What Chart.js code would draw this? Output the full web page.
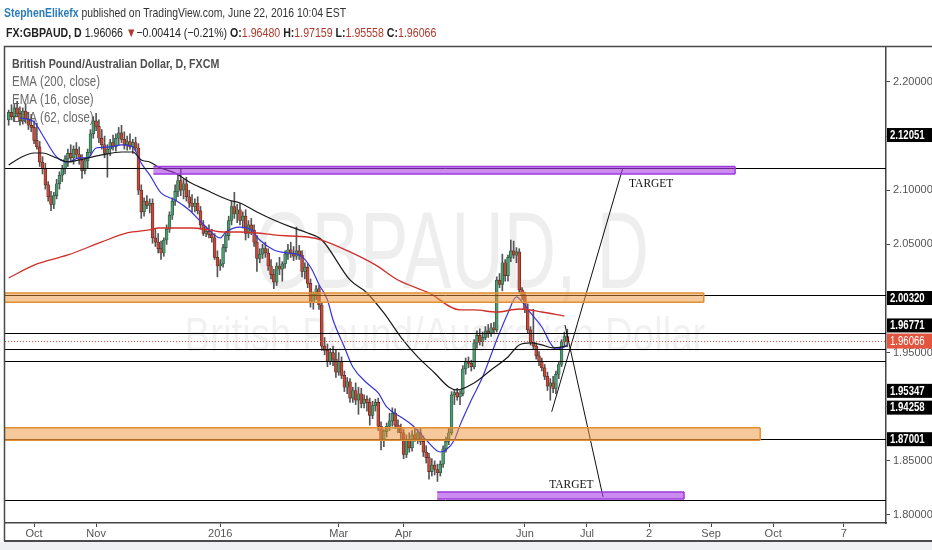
<!DOCTYPE html>
<html>
<head>
<meta charset="utf-8">
<script src="https://cdn.jsdelivr.net/npm/chart.js"></script>
<style>
  html,body{margin:0;padding:0;background:#fff;}
  #wrap{position:relative;width:932px;height:550px;overflow:hidden;}
  canvas{position:absolute;left:0;top:0;}
  .hd{position:absolute;white-space:nowrap;font-family:'Liberation Sans',Arial,sans-serif;font-size:13px;color:#333;transform:scaleX(0.8);transform-origin:0 0;}
  .hd b{font-weight:bold;}
  .red{color:#b0392b;}
</style>
</head>
<body>
<div id="wrap">
<canvas id="c" width="932" height="550"></canvas>
<div class="hd" style="left:4px;top:5px;"><b style="color:#2b7bbd">StephenElikefx</b> published on TradingView.com, June 22, 2016 10:04 EST</div>
<div class="hd" style="left:6px;top:25px;color:#222;transform:scaleX(0.815)"><b>FX:GBPAUD, D</b> 1.96066 <span class="red">&#9660;</span>&#8722;0.00414 (&#8722;0.21%) <b>O:</b><span class="red">1.96480</span> <b>H:</b><span class="red">1.97159</span> <b>L:</b><span class="red">1.95558</span> <b>C:</b><span class="red">1.96066</span></div>
</div>
<script>
// ---------- DATA ----------
// bar index 0 = 1 Oct 2015, one index per trading day (weekdays)
const firstBarIndex = -9; // 18 Sep 2015
const opens = [
2.1650,2.1720,2.1680,2.1760,2.1710,2.1640,2.1730,2.1660,2.1600,2.1580,
2.1460,2.1400,2.1260,2.1200,2.1050,2.0940,2.0870,2.0950,2.1060,2.1140,
2.1200,2.1290,2.1340,2.1300,2.1380,2.1330,2.1280,2.1180,2.1270,2.1350,
2.1520,2.1640,2.1590,2.1480,2.1420,2.1340,2.1380,2.1440,2.1400,2.1480,
2.1530,2.1470,2.1420,2.1450,2.1400,2.1440,2.1390,2.1000,2.0800,2.0900,
2.0860,2.0880,2.0560,2.0520,2.0460,2.0420,2.0540,2.0640,2.0770,2.0900,
2.0990,2.1090,2.1000,2.1060,2.0940,2.0880,2.0850,2.0880,2.0810,2.0680,
2.0600,2.0620,2.0590,2.0560,2.0380,2.0300,2.0320,2.0470,2.0580,2.0720,
2.0850,2.0780,2.0820,2.0720,2.0760,2.0600,2.0680,2.0630,2.0520,2.0370,
2.0410,2.0460,2.0420,2.0300,2.0220,2.0150,2.0300,2.0270,2.0320,2.0410,
2.0450,2.0420,2.0390,2.0440,2.0400,2.0250,2.0290,2.0140,1.9960,2.0040,
2.0090,1.9940,1.9560,1.9520,1.9420,1.9500,1.9440,1.9320,1.9420,1.9290,
1.9180,1.9230,1.9080,1.9150,1.9060,1.9120,1.9030,1.9070,1.9040,1.8920,
1.9010,1.9040,1.8820,1.8700,1.8770,1.8820,1.8870,1.8940,1.8830,1.8800,
1.8760,1.8560,1.8700,1.8620,1.8740,1.8700,1.8760,1.8680,1.8580,1.8530,
1.8400,1.8460,1.8420,1.8390,1.8470,1.8610,1.8680,1.8760,1.9110,1.9130,
1.9090,1.9120,1.9350,1.9420,1.9400,1.9370,1.9590,1.9660,1.9600,1.9640,
1.9700,1.9680,1.9730,1.9710,2.0170,2.0130,2.0330,2.0210,2.0380,2.0440,
2.0400,2.0430,2.0080,2.0030,1.9900,1.9710,1.9600,1.9560,1.9470,1.9420,
1.9360,1.9280,1.9190,1.9220,1.9170,1.9300,1.9390,1.9600,1.96480];
const highs = [
2.1740,2.1790,2.1800,2.1820,2.1770,2.1760,2.1800,2.1720,2.1700,2.1640,
2.1620,2.1450,2.1310,2.1250,2.1080,2.0990,2.0980,2.1100,2.1170,2.1230,
2.1320,2.1380,2.1420,2.1410,2.1440,2.1400,2.1330,2.1300,2.1380,2.1560,
2.1680,2.1710,2.1650,2.1560,2.1500,2.1420,2.1470,2.1510,2.1520,2.1580,
2.1600,2.1540,2.1500,2.1520,2.1470,2.1490,2.1430,2.1050,2.0930,2.0950,
2.0920,2.0920,2.0640,2.0600,2.0530,2.0560,2.0680,2.0800,2.0930,2.1050,
2.1150,2.1200,2.1100,2.1120,2.1000,2.0960,2.0920,2.0940,2.0850,2.0720,
2.0660,2.0680,2.0640,2.0600,2.0440,2.0360,2.0500,2.0620,2.0760,2.0900,
2.0980,2.0870,2.0880,2.0800,2.0820,2.0720,2.0740,2.0680,2.0580,2.0460,
2.0500,2.0520,2.0460,2.0360,2.0270,2.0330,2.0380,2.0340,2.0440,2.0500,
2.0520,2.0480,2.0660,2.0490,2.0440,2.0330,2.0320,2.0180,2.0060,2.0120,
2.0120,1.9960,1.9640,1.9580,1.9540,1.9560,1.9520,1.9500,1.9460,1.9330,
1.9270,1.9260,1.9180,1.9220,1.9180,1.9170,1.9110,1.9100,1.9080,1.9050,
1.9070,1.9080,1.8860,1.8790,1.8850,1.8940,1.8990,1.8980,1.8880,1.8840,
1.8790,1.8740,1.8760,1.8780,1.8810,1.8790,1.8800,1.8730,1.8640,1.8570,
1.8520,1.8500,1.8470,1.8500,1.8640,1.8720,1.8800,1.9140,1.9160,1.9170,
1.9150,1.9380,1.9450,1.9460,1.9430,1.9620,1.9700,1.9720,1.9690,1.9740,
1.9760,1.9770,1.9780,2.0200,2.0230,2.0410,2.0360,2.0400,2.0540,2.0530,
2.0470,2.0460,2.0100,2.0060,1.9950,1.9740,1.9900,1.9590,1.9510,1.9450,
1.9390,1.9320,1.9260,1.9280,1.9330,1.9420,1.9620,1.9690,1.97159];
const lows = [
2.1600,2.1650,2.1640,2.1680,2.1600,2.1610,2.1620,2.1560,2.1540,2.1430,
2.1380,2.1220,2.1150,2.1010,2.0900,2.0810,2.0830,2.0920,2.1010,2.1080,
2.1150,2.1220,2.1260,2.1240,2.1300,2.1240,2.1110,2.1150,2.1200,2.1320,
2.1480,2.1550,2.1440,2.1380,2.1300,2.1120,2.1320,2.1370,2.1360,2.1420,
2.1440,2.1380,2.1370,2.1380,2.1340,2.1360,2.0960,2.0740,2.0760,2.0830,
2.0790,2.0510,2.0480,2.0420,2.0360,2.0390,2.0500,2.0610,2.0730,2.0860,
2.0940,2.0950,2.0920,2.0900,2.0840,2.0800,2.0800,2.0780,2.0640,2.0580,
2.0570,2.0560,2.0520,2.0360,2.0200,2.0260,2.0290,2.0430,2.0540,2.0680,
2.0740,2.0700,2.0680,2.0650,2.0540,2.0560,2.0590,2.0480,2.0250,2.0330,
2.0370,2.0380,2.0260,2.0180,2.0090,2.0120,2.0220,2.0160,2.0280,2.0360,
2.0380,2.0350,2.0360,2.0360,2.0200,2.0180,2.0100,1.9920,1.9900,1.9990,
1.9900,1.9520,1.9480,1.9370,1.9390,1.9380,1.9270,1.9290,1.9260,1.9140,
1.9120,1.9040,1.9040,1.9020,1.8930,1.8990,1.8990,1.8960,1.8830,1.8890,
1.8960,1.8780,1.8600,1.8630,1.8720,1.8780,1.8820,1.8800,1.8760,1.8700,
1.8520,1.8530,1.8580,1.8590,1.8680,1.8660,1.8650,1.8540,1.8480,1.8330,
1.8360,1.8370,1.8310,1.8360,1.8440,1.8580,1.8650,1.8740,1.9020,1.9060,
1.9020,1.9100,1.9300,1.9360,1.9330,1.9350,1.9540,1.9570,1.9560,1.9620,
1.9640,1.9650,1.9680,1.9690,2.0100,2.0070,2.0160,2.0160,2.0340,2.0370,
2.0330,2.0050,1.9990,1.9870,1.9680,1.9570,1.9530,1.9440,1.9380,1.9330,
1.9250,1.9150,1.9060,1.9130,1.9120,1.9260,1.9370,1.9560,1.95558];
const closes = [
2.1720,2.1680,2.1760,2.1710,2.1640,2.1730,2.1660,2.1600,2.1580,2.1460,
2.1400,2.1260,2.1200,2.1050,2.0940,2.0870,2.0950,2.1060,2.1140,2.1200,
2.1290,2.1340,2.1300,2.1380,2.1330,2.1280,2.1180,2.1270,2.1350,2.1520,
2.1640,2.1590,2.1480,2.1420,2.1340,2.1380,2.1440,2.1400,2.1480,2.1530,
2.1470,2.1420,2.1450,2.1400,2.1440,2.1390,2.1000,2.0800,2.0900,2.0860,
2.0880,2.0560,2.0520,2.0460,2.0420,2.0540,2.0640,2.0770,2.0900,2.0990,
2.1090,2.1000,2.1060,2.0940,2.0880,2.0850,2.0880,2.0810,2.0680,2.0600,
2.0620,2.0590,2.0560,2.0380,2.0300,2.0320,2.0470,2.0580,2.0720,2.0850,
2.0780,2.0820,2.0720,2.0760,2.0600,2.0680,2.0630,2.0520,2.0370,2.0410,
2.0460,2.0420,2.0300,2.0220,2.0150,2.0300,2.0270,2.0320,2.0410,2.0450,
2.0420,2.0390,2.0440,2.0400,2.0250,2.0290,2.0140,1.9960,2.0040,2.0090,
1.9940,1.9560,1.9520,1.9420,1.9500,1.9440,1.9320,1.9420,1.9290,1.9180,
1.9230,1.9080,1.9150,1.9060,1.9120,1.9030,1.9070,1.9040,1.8920,1.9010,
1.9040,1.8820,1.8700,1.8770,1.8820,1.8870,1.8940,1.8830,1.8800,1.8760,
1.8560,1.8700,1.8620,1.8740,1.8700,1.8760,1.8680,1.8580,1.8530,1.8400,
1.8460,1.8420,1.8390,1.8470,1.8610,1.8680,1.8760,1.9110,1.9130,1.9090,
1.9120,1.9350,1.9420,1.9400,1.9370,1.9590,1.9660,1.9600,1.9640,1.9700,
1.9680,1.9730,1.9710,2.0170,2.0130,2.0330,2.0210,2.0380,2.0440,2.0400,
2.0430,2.0080,2.0030,1.9900,1.9710,1.9600,1.9560,1.9470,1.9420,1.9360,
1.9280,1.9190,1.9220,1.9170,1.9300,1.9390,1.9600,1.9648,1.96066];

// indicator readings (bar index, value)
const ema200Idx = [-9,0,12,24,33,41,44,50,56,62,67,73,79,85,91,97,102,112,121,129,140,151,156,164,172,180,188];
const ema200Val = [2.0189,2.0309,2.0402,2.0522,2.0605,2.0633,2.0651,2.0651,2.0651,2.0633,2.0614,2.0614,2.0605,2.0587,2.0577,2.0568,2.0540,2.0430,2.0310,2.0171,2.0051,1.9894,1.9894,1.9875,1.9903,1.9875,1.9838];
const ema16Idx = [-5,0,3,8,12,16,19,22,27,31,35,38,41,45,50,55,61,66,68,73,77,80,85,90,94,98,101,104,106,110,113,118,122,125,130,134,139,144,146,149,151,155,159,164,168,171,173,176,180,183,185,188,189];
const ema16Val = [2.1667,2.1630,2.1510,2.1307,2.1261,2.1298,2.1298,2.1390,2.1400,2.1418,2.1400,2.1250,2.1141,2.0975,2.0910,2.0818,2.0660,2.0559,2.0614,2.0660,2.0633,2.0540,2.0448,2.0420,2.0402,2.0291,2.0130,1.9986,1.9801,1.9552,1.9367,1.9219,1.9127,1.8998,1.8905,1.8831,1.8693,1.8582,1.8600,1.8693,1.8830,1.9062,1.9275,1.9617,1.9866,2.0014,1.9968,1.9866,1.9737,1.9589,1.9533,1.9552,1.9570];
const ema62Idx = [-9,-5,0,3,8,12,16,24,31,35,38,41,44,50,55,61,69,73,79,85,91,97,102,112,118,124,130,136,142,147,150,156,162,168,172,176,180,184,189];
const ema62Val = [2.1233,2.1298,2.1344,2.1344,2.1298,2.1261,2.1279,2.1326,2.1353,2.1353,2.1279,2.1261,2.1215,2.1159,2.1076,2.1002,2.0910,2.0882,2.0799,2.0725,2.0661,2.0605,2.0540,2.0171,2.0051,1.9866,1.9644,1.9460,1.9312,1.9183,1.9155,1.9220,1.9340,1.9460,1.9571,1.9589,1.9571,1.9543,1.9561];

// axis
const xTickIdx = [0,22,66,108,131,174,196,218,240,262,287];
const xTickLabels = ['Oct','Nov','2016','Mar','Apr','Jun','Jul','2','Sep','Oct','7'];
const yTickValues = [1.80,1.85,1.90,1.95,2.00,2.05,2.10,2.15,2.20];

// drawings
const hLineValues = [2.12051,2.00320,1.96771,1.95347,1.94258,1.87001,1.81390];
const priceLabelValues = [2.12051,2.00320,1.96771,1.95347,1.94258,1.87001];
const lastPrice = 1.96066;
const bandLow   = [1.9965,1.8690,2.1150,1.8148];
const bandHigh  = [2.0050,1.8805,2.1218,1.8213];
const bandStart = [-11,-11,42.3,142.9];
const bandEnd   = [237.4,257.4,248.5,230.4];
const trendUpIdx = [183.5,208.7];
const trendUpVal = [1.8954,2.1205];
const trendDnIdx = [188.2,201.7];
const trendDnVal = [1.9755,1.8166];
const targetIdx = [210.9,182.6];
const targetVal = [2.1067,1.8286];

// ---------- STYLE ----------
const NARROW = "'Liberation Sans Narrow','Arial Narrow','Liberation Sans',sans-serif";
const SANS = "'Liberation Sans',Arial,sans-serif";
const UP = '#4f9a70', DOWN = '#c04b3c', UP_B = '#22553a', DOWN_B = '#6a2118', WICK = '#555555';
const priceLabelShift = [-33,3,-8,42,47,0];
const bandFill = ['rgba(236,148,55,0.5)','rgba(236,148,55,0.5)','rgba(168,62,228,0.6)','rgba(168,62,228,0.6)'];
const bandLine = ['#e38f33','#e38f33','#9d3ade','#9d3ade'];

function sText(ctx, txt, x, y, font, color, align, sx) {
  ctx.save();
  ctx.font = font; ctx.fillStyle = color; ctx.textBaseline = 'middle';
  ctx.textAlign = align || 'left';
  ctx.translate(x, y); ctx.scale(sx || 0.82, 1);
  ctx.fillText(txt, 0, 0);
  ctx.restore();
}

const bodyData = opens.map((o,k)=>({x: firstBarIndex + k, y: [o, closes[k]]}));
const wickData = lows.map((l,k)=>({x: firstBarIndex + k, y: [l, highs[k]]}));
const pts = (xs, ys) => xs.map((x,k)=>({x, y: ys[k]}));
const isUp = i => closes[i] >= opens[i];

const decor = {
  id: 'decor',
  beforeDraw(chart) {
    const c = chart.ctx;
    c.save();
    c.fillStyle = '#ffffff'; c.fillRect(0,0,chart.width,chart.height);
    c.fillStyle = '#eef0f4'; c.fillRect(0,542,chart.width,chart.height-542);
    c.restore();
  },
  beforeDatasetsDraw(chart) {
    const c = chart.ctx, a = chart.chartArea;
    c.save();
    c.beginPath(); c.rect(a.left, a.top, a.right-a.left, a.bottom-a.top); c.clip();
    sText(c, 'GBPAUD, D', 452, 258, '110px ' + SANS, 'rgba(0,0,0,0.065)', 'center', 0.66);
    sText(c, 'British Pound/Australian Dollar', 445, 338, '48px ' + SANS, 'rgba(0,0,0,0.055)', 'center', 0.8);
    sText(c, 'British Pound/Australian Dollar, D, FXCM', 12, 64, 'bold 13px ' + SANS, '#4f4f4f', 'left', 0.82);
    sText(c, 'EMA (200, close)', 12, 82, '14px ' + SANS, '#6a6a6a', 'left', 0.82);
    sText(c, 'EMA (16, close)', 12, 100, '14px ' + SANS, '#6a6a6a', 'left', 0.82);
    sText(c, 'EMA (62, close)', 12, 118, '14px ' + SANS, '#6a6a6a', 'left', 0.82);
    c.restore();
  },
  afterDatasetsDraw(chart) {
    const c = chart.ctx, a = chart.chartArea, xs = chart.scales.x, ys = chart.scales.y;
    c.save();
    c.beginPath(); c.rect(a.left, a.top, a.right-a.left, a.bottom-a.top); c.clip();
    c.strokeStyle = '#000'; c.lineWidth = 1;
    hLineValues.forEach(v => {
      const y = Math.round(ys.getPixelForValue(v)) + 0.5;
      c.beginPath(); c.moveTo(a.left, y); c.lineTo(a.right, y); c.stroke();
    });
    bandLow.forEach((lo,k) => {
      const x1 = xs.getPixelForValue(bandStart[k]), x2 = xs.getPixelForValue(bandEnd[k]);
      const y1 = ys.getPixelForValue(bandHigh[k]), y2 = ys.getPixelForValue(bandLow[k]);
      c.fillStyle = bandFill[k]; c.fillRect(x1, y1, x2-x1, y2-y1);
      c.strokeStyle = bandLine[k]; c.lineWidth = 1.5;
      c.beginPath(); c.moveTo(x1,y1); c.lineTo(x2,y1); c.moveTo(x1,y2); c.lineTo(x2,y2); c.moveTo(x2,y1); c.lineTo(x2,y2); c.stroke();
    });
    const yl = Math.round(ys.getPixelForValue(lastPrice)) + 0.5;
    c.strokeStyle = '#e3553f'; c.lineWidth = 1; c.setLineDash([1,2]);
    c.beginPath(); c.moveTo(a.left, yl); c.lineTo(a.right, yl); c.stroke();
    c.setLineDash([]);
    targetIdx.forEach((ix,k) => {
      sText(c, 'TARGET', xs.getPixelForValue(ix), ys.getPixelForValue(targetVal[k]), '13.5px "Liberation Serif",serif', '#111', 'left', 0.85);
    });
    c.restore();
  },
  afterDraw(chart) {
    const c = chart.ctx, a = chart.chartArea, ys = chart.scales.y;
    c.save();
    priceLabelValues.forEach((v,k) => {
      const cy = ys.getPixelForValue(v) + priceLabelShift[k];
      c.fillStyle = '#000'; c.fillRect(a.right+1, cy-7, 50, 14);
      sText(c, v.toFixed(5), a.right+4, cy+0.5, 'bold 12px ' + SANS, '#fff', 'left', 0.8);
    });
    const cl = ys.getPixelForValue(lastPrice);
    c.fillStyle = '#e3553f'; c.fillRect(a.right+1, cl-7.5, 50, 15);
    sText(c, lastPrice.toFixed(5), a.right+4, cl+0.5, '12px ' + SANS, '#fff', 'left', 0.8);
    c.strokeStyle = '#4a4a4a'; c.lineWidth = 1.5;
    c.beginPath();
    c.moveTo(4.5, 541); c.lineTo(4.5, 46.5); c.lineTo(chart.width+2, 46.5);
    c.stroke();
    c.lineWidth = 2;
    c.beginPath(); c.moveTo(4, 541); c.lineTo(chart.width+2, 541); c.stroke();
    c.restore();
  }
};

new Chart(document.getElementById('c'), {
  type: 'bar',
  data: {
    datasets: [
      {type:'line', data: pts(trendUpIdx, trendUpVal), borderColor:'#111', borderWidth:1, pointRadius:0, order:0},
      {type:'line', data: pts(trendDnIdx, trendDnVal), borderColor:'#111', borderWidth:1, pointRadius:0, order:0},
      {type:'line', data: pts(ema200Idx, ema200Val), borderColor:'#cf2f2a', borderWidth:1.3, pointRadius:0, cubicInterpolationMode:'monotone', order:1},
      {type:'line', data: pts(ema62Idx, ema62Val), borderColor:'#1a1a1a', borderWidth:1.2, pointRadius:0, cubicInterpolationMode:'monotone', order:1},
      {type:'line', data: pts(ema16Idx, ema16Val), borderColor:'#3535dc', borderWidth:1.2, pointRadius:0, cubicInterpolationMode:'monotone', order:1},
      {type:'bar', data: bodyData, grouped:false, barThickness:2.9, minBarLength:1, borderWidth:0.7, borderSkipped:false,
        backgroundColor: ctx => (isUp(ctx.dataIndex) ? UP : DOWN),
        borderColor: ctx => (isUp(ctx.dataIndex) ? UP_B : DOWN_B), order:2},
      {type:'bar', data: wickData, grouped:false, barThickness:1, borderWidth:0, backgroundColor: WICK, order:3}
    ]
  },
  options: {
    responsive: false,
    animation: false,
    events: [],
    layout: {padding: {top:47, left:5, right:0, bottom:9}},
    plugins: {legend:{display:false}, tooltip:{enabled:false}},
    scales: {
      x: {
        type: 'linear', min: -10.3, max: 302, offset: false,
        afterBuildTicks: s => { s.ticks = xTickIdx.map(v => ({value: v})); },
        afterFit: s => { s.height = 18; },
        ticks: {autoSkip:false, maxRotation:0, padding:0, color:'#555',
          font:{family: NARROW, size:11}, callback: (v, i) => xTickLabels[i]},
        grid: {drawOnChartArea:false, offset:false, tickLength:4, color:'#444'},
        border: {display:true, color:'#444', width:1.5}
      },
      y: {
        type: 'linear', position: 'right', min: 1.7926, max: 2.2323,
        afterBuildTicks: s => { s.ticks = yTickValues.map(v => ({value: v})); },
        afterFit: s => { s.width = 46; },
        ticks: {padding:3, color:'#555', font:{family: NARROW, size:11}, callback: v => Number(v).toFixed(5)},
        grid: {drawOnChartArea:false, tickLength:4, color:'#444'},
        border: {display:true, color:'#444', width:1.5}
      }
    }
  },
  plugins: [decor]
});
</script>
</body>
</html>
